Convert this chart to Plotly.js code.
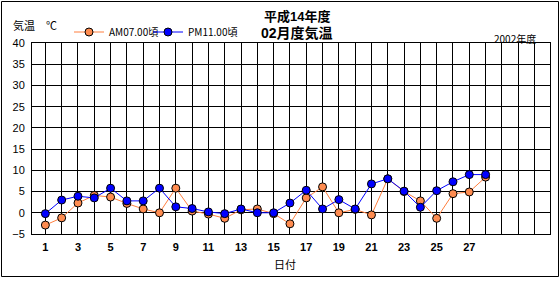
<!DOCTYPE html>
<html><head><meta charset="utf-8">
<script src="https://cdn.plot.ly/plotly-3.0.1.min.js"></script>
<style>html,body{margin:0;padding:0;background:#fff}#chart{width:560px;height:300px}</style>
</head><body><div id="chart"></div>
<script>
const days = [1,2,3,4,5,6,7,8,9,10,11,12,13,14,15,16,17,18,19,20,21,22,23,24,25,26,27,28];
const amTemps = [-2.9,-1.2,2.3,4.1,3.7,2.2,0.9,0.0,5.8,0.4,-0.3,-1.3,0.7,0.9,-0.2,-2.6,3.5,6.1,0.0,0.8,-0.5,8.0,5.0,2.8,-1.3,4.5,4.9,8.4];
const pmTemps = [-0.2,3.0,3.9,3.5,5.8,2.8,2.8,5.8,1.4,1.0,0.2,-0.2,0.9,0.0,0.0,2.3,5.3,0.9,3.1,0.9,6.8,8.0,5.1,1.3,5.2,7.3,9.0,9.0];
const xTickVals = [1,3,5,7,9,11,13,15,17,19,21,23,25,27];
const seriesNames = ['AM07.00頃','PM11.00頃'];

const W=560,H=300,L=32,R=10,T=43,B=66;
const pw=W-L-R, ph=H-T-B;
const px=x=>(x-L)/pw, py=y=>1-(y-T)/ph;
const font='Liberation Sans, Noto Sans CJK JP, sans-serif';
const jfont='Noto Sans CJK JP, sans-serif';

const traces=[
 {x:days,y:amTemps,name:seriesNames[0],type:'scatter',mode:'lines+markers',legend:'legend',
  line:{color:'#FF7F3F',width:1},marker:{color:'#FF8C50',size:8,line:{color:'#000',width:1}}},
 {x:days,y:pmTemps,name:seriesNames[1],type:'scatter',mode:'lines+markers',legend:'legend2',
  line:{color:'#0000FF',width:1},marker:{color:'#0000FF',size:8,line:{color:'#000',width:1}}}
];
const legBase={orientation:'h',xanchor:'left',yanchor:'middle',bgcolor:'rgba(0,0,0,0)',font:{family:jfont,size:10}};
const layout={
 width:W,height:H,margin:{l:L,r:R,t:T,b:B},
 paper_bgcolor:'#fff',plot_bgcolor:'#fff',showlegend:true,
 font:{family:font,color:'#000',size:11},
 xaxis:{range:[0.18,31.95],tickvals:xTickVals,ticktext:xTickVals.map(String),
  showgrid:true,gridcolor:'#000',gridwidth:1,zeroline:false,
  minor:{dtick:1,tick0:0,showgrid:true,gridcolor:'#000',gridwidth:1,ticks:''},
  showline:true,linecolor:'#000',linewidth:1,mirror:true,ticks:'',
  tickfont:{family:font,size:11,color:'#000',weight:'bold'},ticklabelstandoff:3},
 yaxis:{range:[-5,40],dtick:5,showgrid:true,gridcolor:'#000',gridwidth:1,
  zeroline:true,zerolinecolor:'#000',zerolinewidth:1,
  showline:true,linecolor:'#000',linewidth:1,mirror:true,ticks:'',
  tickfont:{family:font,size:11,color:'#000'},ticklabelstandoff:4},
 legend:Object.assign({},legBase,{x:px(69),y:py(32)}),
 legend2:Object.assign({},legBase,{x:px(148),y:py(32)}),
 annotations:[
  {text:'<b>平成14年度</b>',xref:'paper',yref:'paper',x:px(297),y:py(17),showarrow:false,font:{family:font,size:13},xanchor:'center',yanchor:'middle'},
  {text:'<b>02月度気温</b>',xref:'paper',yref:'paper',x:px(297),y:py(33),showarrow:false,font:{family:font,size:14},xanchor:'center',yanchor:'middle'},
  {text:'気温　℃',xref:'paper',yref:'paper',x:px(11),y:py(25),showarrow:false,font:{family:jfont,size:11},xanchor:'left',yanchor:'middle'},
  {text:'2002年度',xref:'paper',yref:'paper',x:px(538),y:py(38),showarrow:false,font:{family:jfont,size:10},xanchor:'right',yanchor:'middle'},
  {text:'日付',xref:'paper',yref:'paper',x:px(285),y:py(264),showarrow:false,font:{family:jfont,size:11},xanchor:'center',yanchor:'middle'}
 ],
 shapes:[
  {type:'rect',xref:'paper',yref:'paper',x0:px(1.5),x1:px(558.5),y0:py(1.5),y1:py(276.5),line:{color:'#000',width:1},layer:'below'}
 ]
};
Plotly.newPlot('chart',traces,layout,{staticPlot:true,displayModeBar:false});
</script></body></html>
